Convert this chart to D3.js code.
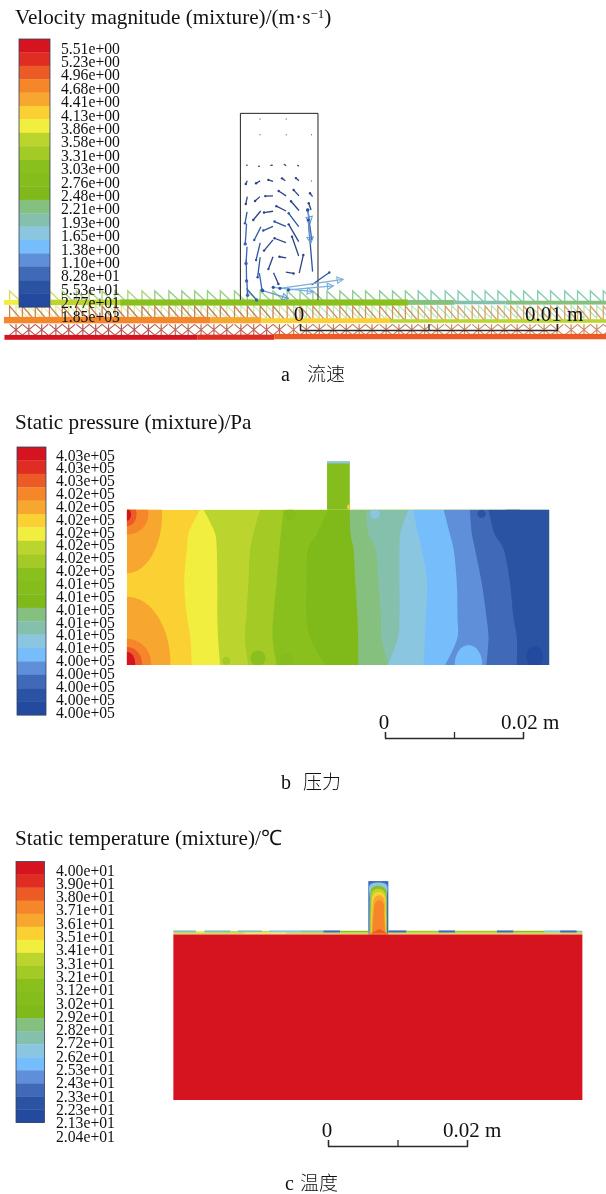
<!DOCTYPE html>
<html>
<head>
<meta charset="utf-8">
<title>Velocity, pressure and temperature fields</title>
<script src="https://cdnjs.cloudflare.com/ajax/libs/d3/7.8.5/d3.min.js"></script>
<style>
html, body { margin: 0; padding: 0; background: #fff; }
svg { display: block; filter: blur(0.35px); }
text { font-family: "Liberation Serif", serif; fill: #111; }
.cjk { font-family: "Noto Sans CJK SC", sans-serif; font-weight: 300; }
.legend text { font-size: 15.7px; }
.legend .domain, .legend .tick line { display: none; }
.bar text { display: none; }
.bar path, .bar line { stroke: #2a2a2a; stroke-width: 1.3; fill: none; }
.soft { filter: blur(0.5px); }
</style>
</head>
<body>
<div id="chart"></div>
<script>
// colour bands of the legends, top to bottom
var bandColors = ["#d6141f", "#df2d23", "#ec5a26", "#f5862a", "#f7a62f", "#fbd033", "#f1ee3f",
    "#bcd52e", "#a3ca25", "#8ac01d", "#84bd1c", "#80ba1a", "#85c07e", "#85c0ad", "#8ac6e0",
    "#76bdfb", "#5f8fd8", "#4069b8", "#2a54a3", "#234a9e"];

var velocityLabels = ["5.51e+00", "5.23e+00", "4.96e+00", "4.68e+00", "4.41e+00", "4.13e+00", "3.86e+00",
    "3.58e+00", "3.31e+00", "3.03e+00", "2.76e+00", "2.48e+00", "2.21e+00", "1.93e+00", "1.65e+00",
    "1.38e+00", "1.10e+00", "8.28e+01", "5.53e+01", "2.77e+01", "1.85e+03"];
var pressureLabels = ["4.03e+05", "4.03e+05", "4.03e+05", "4.02e+05", "4.02e+05", "4.02e+05", "4.02e+05",
    "4.02e+05", "4.02e+05", "4.02e+05", "4.01e+05", "4.01e+05", "4.01e+05", "4.01e+05", "4.01e+05",
    "4.01e+05", "4.00e+05", "4.00e+05", "4.00e+05", "4.00e+05", "4.00e+05"];
var temperatureLabels = ["4.00e+01", "3.90e+01", "3.80e+01", "3.71e+01", "3.61e+01", "3.51e+01", "3.41e+01",
    "3.31e+01", "3.21e+01", "3.12e+01", "3.02e+01", "2.92e+01", "2.82e+01", "2.72e+01", "2.62e+01",
    "2.53e+01", "2.43e+01", "2.33e+01", "2.23e+01", "2.13e+01", "2.04e+01"];

// panel a, velocity vectors in mm: x, y, dx, dy, speed in m/s
var vectors = [
    [-1.56, 8.21, 0.01, 0, 0.2], [-0.54, 8.21, 0.01, 0, 0.2],
    [-1.56, 7.60, 0.01, 0, 0.2], [-0.54, 7.60, 0.01, 0, 0.2], [0.45, 7.60, 0.01, 0, 0.2], [0.45, 5.80, 0.01, 0, 0.2],
    [-2.08, 6.41, 0.04, 0, 0.2], [-1.62, 6.37, 0.06, 0.01, 0.2], [-1.14, 6.41, 0.08, 0, 0.2], [-0.62, 6.45, 0.08, -0.06, 0.2], [-0.10, 6.41, 0.06, -0.04, 0.2],
    [-2.11, 5.68, 0.06, 0.13, 0.3], [-1.71, 5.71, 0.16, 0.09, 0.3], [-1.23, 5.84, 0.18, -0.06, 0.3], [-0.70, 5.90, 0.13, -0.09, 0.3], [-0.16, 5.91, 0.12, -0.10, 0.3],
    [-2.11, 4.90, 0.06, 0.29, 0.4], [-1.75, 5.02, 0.19, 0.17, 0.4], [-1.35, 5.21, 0.30, 0.01, 0.4], [-0.83, 5.41, 0.29, -0.19, 0.4], [-0.25, 5.45, 0.21, -0.23, 0.4], [0.39, 5.32, 0.10, -0.13, 0.4],
    [-2.14, 4.15, 0.08, 0.45, 0.5], [-1.82, 4.28, 0.29, 0.35, 0.4], [-1.40, 4.57, 0.35, 0.05, 0.4], [-0.92, 4.82, 0.38, -0.19, 0.4], [-0.35, 5.01, 0.31, -0.36, 0.4], [0.34, 4.93, 0.09, -0.26, 0.4],
    [-2.13, 3.35, 0.05, 0.78, 0.7], [-1.78, 3.50, 0.26, 0.52, 0.5], [-1.43, 3.87, 0.38, 0.16, 0.5], [-0.99, 4.22, 0.44, -0.19, 0.5], [-0.44, 4.54, 0.39, -0.52, 0.5], [0.30, 4.67, 0.16, -1.17, 0.7],
    [-2.10, 2.59, 0.04, 0.65, 0.8], [-1.71, 2.72, 0.16, 0.67, 0.5], [-1.40, 3.09, 0.35, 0.42, 0.4], [-0.99, 3.57, 0.44, -0.17, 0.4], [-0.44, 4.11, 0.39, -0.67, 0.4], [0.32, 4.28, 0.17, -2.01, 0.6],
    [-2.08, 1.91, -0.01, 0.82, 0.8], [-1.65, 2.05, 0.10, 0.78, 0.5], [-1.23, 2.37, 0.18, 0.48, 0.4], [-0.80, 2.85, 0.26, -0.04, 0.3], [-0.31, 3.63, 0.26, -0.75, 0.4], [0.13, 2.92, -0.16, -0.71, 0.4],
    [-2.04, 1.35, -0.03, 0.60, 0.8], [-1.48, 1.56, -0.10, 0.65, 0.7], [-0.84, 1.79, -0.19, 0.44, 0.4], [-0.25, 2.20, -0.30, 0.05, 0.3], [1.14, 2.24, -0.69, -0.49, 0.5],
    [-1.69, 1.17, -0.39, 0.45, 0.8]
];
// the long fast vectors near the cavity mouth and the wall jet, with open heads
var headVectors = [
    [-1.45, 1.53, 1.00, -0.30, 1.1], [-1.04, 1.66, 1.56, -0.17, 1.45], [-0.78, 1.62, 2.46, 0.35, 1.6], [-0.45, 1.56, 1.75, 0.16, 1.6],
    [0.30, 4.67, 0.10, -0.50, 1.2], [0.32, 4.28, 0.10, -0.90, 1.2]
];
var speedDomain = [0.3, 0.45, 0.65, 0.9, 1.3];
var speedColors = ["#3c4470", "#2c4486", "#2a54a3", "#3a62b5", "#6a9bd0", "#78aedd"];

// panel a, mesh stations along the channel in mm
var meshStations = [-11.3, -10.8, -10.3, -9.75, -9.25, -8.7, -8.2, -7.7, -7.2, -6.7, -6.15, -5.65, -5.1, -4.6, -4.1, -3.6,
    -3.1, -2.55, -2.05, -1.55, -1.05, -0.5, 0, 0.5, 1.05, 1.55, 2.05, 2.55, 3.1, 3.6, 4.1, 4.6, 5.1, 5.65, 6.15, 6.7,
    7.2, 7.7, 8.2, 8.7, 9.25, 9.75, 10.3, 10.8, 11.3, 11.8];
var meshColorBreaks = [-9.5, -6, -1, 4.5];
var meshRow1Colors = ["#dcd75f", "#a9d478", "#92cd84", "#8cca92", "#7fcbae"];
var meshRow1bColors = ["#e9e388", "#cfe48c", "#c8e39a", "#b6e0a8", "#a8dcb4"];
var meshRow2Colors = ["#c07a46", "#b8703e", "#bc7642", "#c68a4a", "#cf9a52"];
var meshRow3Colors = ["#a83a34", "#a83a34", "#b04a38", "#bc6240", "#c47444"];

// thick speed bands over the mesh: x0, x1, colour index, y bottom, y top (mm)
var meshBands = [
    [-11.55, -9.7, 6, 0.98, 1.17], [-9.7, -7, 7, 0.97, 1.18], [-7, 4.2, 9, 0.95, 1.19], [4.2, 6, 12, 0.98, 1.17],
    [6, 8, 13, 1.0, 1.14], [8, 12, 12, 0.99, 1.14],
    [-11.55, -3.5, 3, 0.26, 0.51], [-3.5, -1.5, 4, 0.26, 0.5], [-1.5, 3.5, 5, 0.27, 0.46], [3.5, 12, 7, 0.28, 0.42],
    [-11.5, -4, 0, -0.38, -0.19], [-4, -1, 1, -0.38, -0.18], [-1, 12, 2, -0.36, -0.15]
];

// panel b, pressure contour boundaries in mm, x read at each height of pressureLevels
var pressureLevels = [0, 4, 7, 12, 17, 19, 22.5];
var pressureBase = 5;
var pressureFronts = [
    { band: 6, x: [-28.0, -28.2, -28.7, -29.1, -28.7, -28.5, -26.8] },
    { band: 7, x: [-23.9, -24.2, -24.3, -24.3, -24.4, -24.6, -26.3] },
    { band: 8, x: [-19.8, -20.3, -20.1, -19.8, -19.5, -19.1, -18.1] },
    { band: 9, x: [-15.7, -16.3, -16.2, -15.7, -15.3, -15.1, -14.7] },
    { band: 11, x: [-8.7, -10.9, -11.4, -11.4, -11.1, -9.9, -8.2] },
    { band: 12, x: [-3.9, -3.9, -4.0, -4.3, -4.6, -5.0, -5.1] },
    { band: 13, x: [0.5, -0.5, -0.6, -1.0, -1.4, -2.4, -2.7] },
    { band: 14, x: [0.4, 1.9, 2.1, 2.1, 2.1, 2.2, 3.4] },
    { band: 15, x: [5.6, 5.8, 5.9, 6.1, 5.3, 4.8, 4.1] },
    { band: 16, x: [8.7, 10.5, 10.5, 10.4, 9.9, 9.4, 8.5] },
    { band: 17, x: [14.7, 15.0, 14.7, 14.0, 13.0, 12.6, 12.3] },
    { band: 18, x: [19.1, 19.1, 18.6, 18.1, 17.1, 15.9, 15.0] }
];
// pressure pockets: x, y, rx, ry, colour index (mm)
var pressureBlobs = [
    [-37.4, 21.8, 5.1, 8.5, 4], [-37.4, 21.8, 3.1, 2.9, 3], [-37.4, 21.8, 1.4, 1.7, 2], [-37.4, 21.8, 0.6, 0.9, 0],
    [-37.4, 0.2, 6.3, 9.7, 4], [-37.4, 0.2, 3.5, 3.6, 3], [-37.4, 0.2, 2.2, 2.4, 2], [-37.4, 0.2, 1.2, 1.7, 0],
    [-23.0, 0.6, 0.6, 0.6, 8], [-18.4, 1.0, 1.1, 1.1, 9], [-14.3, 0.7, 1.0, 1.0, 10],
    [12.1, 0, 2.0, 2.9, 15], [-1.45, 21.9, 0.7, 0.7, 14], [-13.7, 21.8, 0.8, 0.8, 10],
    [14, 21.9, 0.6, 0.6, 18], [18.6, 21.8, 1.2, 1.2, 18], [21.7, 1.2, 1.2, 1.6, 19]
];
var pressureBody = [-37.4, 23.8, 0, 22.5];
var pressureNozzle = [-8.4, -5.1, 22.5, 29.5];
var pressureNozzleCap = [-8.4, -5.1, 29.2, 29.5];
var pressureNozzleSpot = [-5.3, 22.9, 0.2, 0.35, 5];

// panel c, temperature field in mm
var temperatureBody = [-22.25, 36.6, 0, 23.8];
var temperatureNozzle = [5.8, 8.68, 23.8, 31.5];
var temperatureLayerBands = [14, 9, 7, 5, 4, 3, 3, 2];
var temperatureLayers = [
    [[5.98, 23.8], [6.0, 29], [6.08, 31.0], [8.4, 31.0], [8.46, 29], [8.5, 23.8]],
    [[6.02, 23.8], [6.1, 28.5], [6.35, 30.5], [7.4, 30.8], [8.28, 30.3], [8.42, 28], [8.46, 23.8]],
    [[6.1, 23.8], [6.18, 28], [6.45, 30.1], [7.4, 30.4], [8.18, 29.9], [8.36, 27], [8.42, 23.8]],
    [[6.2, 23.8], [6.28, 27.5], [6.55, 29.6], [7.4, 29.95], [8.1, 29.5], [8.28, 27], [8.36, 23.8]],
    [[6.28, 23.8], [6.4, 27], [6.7, 29.1], [7.4, 29.45], [8.02, 29.0], [8.18, 26.5], [8.3, 23.8]],
    [[6.35, 23.8], [6.55, 26.5], [6.85, 28.4], [7.4, 28.75], [7.96, 28.3], [8.08, 26], [8.25, 23.8]],
    [[6.45, 23.8], [6.75, 25.8], [7.1, 27.4], [7.6, 27.5], [7.95, 27], [8.0, 25.5], [8.18, 23.8]],
    [[6.0, 23.8], [6.6, 24.2], [7.3, 24.55], [8.1, 24.25], [8.6, 23.8]]
];
// thermal layer above the plate: x0, x1, colour index, y bottom, y top (mm)
var temperatureStrip = [
    [-22.25, 36.6, 4, 23.8, 23.95], [-22.25, -12, 7, 23.95, 24.12], [-12, -6, 6, 23.95, 24.12], [-6, 5.8, 7, 23.95, 24.12],
    [8.68, 36.6, 7, 23.95, 24.12],
    [-22.25, -19, 13, 24.12, 24.4], [-19, -17.8, 6, 24.12, 24.3], [-17.8, -14, 13, 24.12, 24.4], [-14, -13, 7, 24.12, 24.3],
    [-13, -9.5, 13, 24.12, 24.4], [-9.5, -8.5, 7, 24.12, 24.3], [-8.5, -4, 14, 24.12, 24.4], [-4, -0.67, 13, 24.12, 24.4],
    [-0.67, 1.73, 17, 24.1, 24.4], [1.73, 5.8, 9, 24.12, 24.35],
    [8.68, 11.3, 17, 24.1, 24.4], [11.3, 15.9, 8, 24.12, 24.35], [15.9, 18.3, 17, 24.1, 24.4], [18.3, 24.3, 8, 24.12, 24.35],
    [24.3, 26.7, 17, 24.1, 24.4], [26.7, 31.2, 9, 24.12, 24.35], [31.2, 33.4, 14, 24.12, 24.4], [33.4, 35.8, 17, 24.1, 24.4],
    [35.8, 36.6, 13, 24.12, 24.35]
];

var svg = d3.select("#chart").append("svg")
    .attr("width", 606)
    .attr("height", 1194);

var defs = svg.append("defs");

function drawTitle(x, y, txt) {
    return svg.append("text")
        .attr("x", x)
        .attr("y", y)
        .attr("font-size", 21.2)
        .text(txt);
}

function drawCaption(x, y, letter, han, gap) {
    svg.append("text").attr("x", x).attr("y", y).attr("font-size", 20).text(letter);
    svg.append("text").attr("class", "cjk").attr("x", x + gap).attr("y", y).attr("font-size", 19).text(han);
}

function drawLegend(labels, barX, barW, barTop, barBottom, labelX, labelTop, labelBottom) {
    var g = svg.append("g").attr("class", "legend");

    var bandY = d3.scaleBand()
        .domain(d3.range(bandColors.length))
        .range([barTop, barBottom]);

    g.selectAll("rect.band")
        .data(bandColors)
        .enter().append("rect")
        .attr("class", "band")
        .attr("x", barX)
        .attr("y", function (d, i) { return bandY(i); })
        .attr("width", barW)
        .attr("height", bandY.bandwidth() + 0.3)
        .attr("fill", function (d) { return d; });

    g.append("rect")
        .attr("x", barX)
        .attr("y", barTop)
        .attr("width", barW)
        .attr("height", barBottom - barTop)
        .attr("fill", "none")
        .attr("stroke", "#33435f")
        .attr("stroke-width", 0.8);

    var labelY = d3.scalePoint()
        .domain(d3.range(labels.length))
        .range([labelTop, labelBottom]);

    g.append("g")
        .attr("transform", "translate(" + labelX + ",0)")
        .call(d3.axisRight(labelY).tickSize(0).tickPadding(0).tickFormat(function (i) { return labels[i]; }));
}

function drawScaleBar(x, y, yBar, labelY, endLabel, labelX) {
    svg.append("g")
        .attr("class", "bar")
        .attr("transform", "translate(0," + yBar + ")")
        .call(d3.axisTop(x).tickValues([0, 10, 20]).tickSize(6).tickFormat(""));

    svg.append("text")
        .attr("x", x(0) - 1)
        .attr("y", labelY)
        .attr("text-anchor", "middle")
        .attr("font-size", 21)
        .text("0");
    svg.append("text")
        .attr("x", labelX)
        .attr("y", labelY)
        .attr("font-size", 21)
        .text(endLabel);
}

// panel a ----------------------------------------------------------------
function drawVelocity() {
    var x = d3.scaleLinear().domain([0, 10]).range([300, 557]);
    var y = d3.scaleLinear().domain([0, 10]).range([330, 73]);

    var g = svg.append("g");
    var clipId = "meshClip";
    defs.append("clipPath").attr("id", clipId).append("rect")
        .attr("x", x(-11.52))
        .attr("y", y(1.6))
        .attr("width", x(12) - x(-11.52))
        .attr("height", y(-0.4) - y(1.6));

    var mesh = g.append("g").attr("clip-path", "url(#" + clipId + ")").attr("class", "soft");

    function meshColor(colors) {
        return d3.scaleThreshold().domain(meshColorBreaks).range(colors);
    }

    function row(colors, className, build, width, alpha) {
        var c = meshColor(colors);
        mesh.selectAll("path." + className)
            .data(meshStations)
            .enter().append("path")
            .attr("class", className)
            .attr("d", build)
            .attr("fill", "none")
            .attr("stroke", function (d) { return c(d); })
            .attr("stroke-width", width)
            .attr("stroke-opacity", alpha);
    }

    // pale second layer first, then the three mesh rows
    row(meshRow1bColors, "row1b", function (s) {
        return "M" + x(s + 0.25) + "," + y(0.45) + "L" + x(s + 0.25) + "," + y(0.95) + "L" + x(s + 0.75) + "," + y(0.45);
    }, 1.2, 0.9);
    row(meshRow1Colors, "row1", function (s) {
        return "M" + x(s) + "," + y(1.05) + "L" + x(s) + "," + y(1.52) + "L" + x(s + 0.5) + "," + y(1.05);
    }, 1.4, 0.95);
    row(meshRow2Colors, "row2", function (s) {
        return "M" + x(s) + "," + y(0.35) + "L" + x(s) + "," + y(0.93) + "L" + x(s + 0.5) + "," + y(0.35);
    }, 1.3, 0.9);
    row(meshRow3Colors, "row3", function (s) {
        return "M" + x(s) + "," + y(0.22) + "L" + x(s + 0.5) + "," + y(-0.2) +
            "M" + x(s + 0.5) + "," + y(0.22) + "L" + x(s) + "," + y(-0.2) +
            "M" + x(s + 0.25) + "," + y(0.22) + "L" + x(s + 0.25) + "," + y(-0.2);
    }, 1.2, 0.85);

    mesh.selectAll("rect.meshband")
        .data(meshBands)
        .enter().append("rect")
        .attr("class", "meshband")
        .attr("x", function (d) { return x(d[0]); })
        .attr("y", function (d) { return y(d[4]); })
        .attr("width", function (d) { return x(d[1]) - x(d[0]); })
        .attr("height", function (d) { return y(d[3]) - y(d[4]); })
        .attr("fill", function (d) { return bandColors[d[2]]; });

    // cavity walls
    var wall = d3.line().x(function (d) { return x(d[0]); }).y(function (d) { return y(d[1]); });
    g.append("path")
        .attr("d", wall([[-2.32, 1.17], [-2.32, 8.43], [0.7, 8.43], [0.7, 1.17]]))
        .attr("fill", "none")
        .attr("stroke", "#222")
        .attr("stroke-width", 1);

    var speed = d3.scaleThreshold().domain(speedDomain).range(speedColors);

    g.selectAll("line.vec")
        .data(vectors)
        .enter().append("line")
        .attr("class", "vec")
        .attr("x1", function (d) { return x(d[0]); })
        .attr("y1", function (d) { return y(d[1]); })
        .attr("x2", function (d) { return x(d[0] + d[2]); })
        .attr("y2", function (d) { return y(d[1] + d[3]); })
        .attr("stroke", function (d) { return speed(d[4]); })
        .attr("stroke-width", 1.3);

    g.selectAll("circle.vec")
        .data(vectors)
        .enter().append("circle")
        .attr("class", "vec")
        .attr("cx", function (d) { return x(d[0]); })
        .attr("cy", function (d) { return y(d[1]); })
        .attr("r", function (d) { return d[4] < 0.25 ? 0.5 : (d[4] > 0.6 ? 1.7 : 1.2); })
        .attr("fill", function (d) { return speed(d[4]); });

    var heads = g.selectAll("g.head")
        .data(headVectors)
        .enter().append("g")
        .attr("class", "head");

    heads.append("line")
        .attr("x1", function (d) { return x(d[0]); })
        .attr("y1", function (d) { return y(d[1]); })
        .attr("x2", function (d) { return x(d[0] + d[2]); })
        .attr("y2", function (d) { return y(d[1] + d[3]); })
        .attr("stroke", function (d) { return speed(d[4]); })
        .attr("stroke-width", 1.3);

    heads.append("path")
        .attr("d", function (d) {
            var tx = x(d[0] + d[2]), ty = y(d[1] + d[3]);
            var a = Math.atan2(ty - y(d[1]), tx - x(d[0]));
            var s = 6, w = 3.2;
            var bx = tx - s * Math.cos(a), by = ty - s * Math.sin(a);
            return "M" + tx + "," + ty +
                "L" + (bx - w * Math.sin(a)) + "," + (by + w * Math.cos(a)) +
                "L" + (bx + w * Math.sin(a)) + "," + (by - w * Math.cos(a)) + "Z";
        })
        .attr("fill", "none")
        .attr("stroke", function (d) { return speed(d[4]); })
        .attr("stroke-width", 1.1);

    g.selectAll("circle.hd")
        .data(headVectors)
        .enter().append("circle")
        .attr("class", "hd")
        .attr("cx", function (d) { return x(d[0]); })
        .attr("cy", function (d) { return y(d[1]); })
        .attr("r", 1.6)
        .attr("fill", "#2a54a3");

    drawScaleBar(d3.scaleLinear().domain([0, 20]).range([x(0), x(10)]), y, y(0), 321, "0.01 m", 525);
}

// panel b ----------------------------------------------------------------
function drawPressure() {
    var x = d3.scaleLinear().domain([0, 20]).range([385, 523]);
    var y = d3.scaleLinear().domain([0, 22.5]).range([665, 509.75]);

    var g = svg.append("g");

    defs.append("clipPath").attr("id", "pressureClip").append("rect")
        .attr("x", x(pressureBody[0]))
        .attr("y", y(pressureBody[3]))
        .attr("width", x(pressureBody[1]) - x(pressureBody[0]))
        .attr("height", y(pressureBody[2]) - y(pressureBody[3]));

    var body = g.append("g").attr("clip-path", "url(#pressureClip)");

    body.append("rect")
        .attr("x", x(pressureBody[0]))
        .attr("y", y(pressureBody[3]))
        .attr("width", x(pressureBody[1]) - x(pressureBody[0]))
        .attr("height", y(pressureBody[2]) - y(pressureBody[3]))
        .attr("fill", bandColors[pressureBase]);

    // each front paints everything to its right
    var front = d3.area()
        .y(function (d) { return y(d.level); })
        .x0(function (d) { return x(d.x); })
        .x1(x(pressureBody[1]))
        .curve(d3.curveCatmullRom);

    body.selectAll("path.front")
        .data(pressureFronts)
        .enter().append("path")
        .attr("class", "front")
        .attr("d", function (f) {
            return front(pressureLevels.map(function (l, i) { return { level: l, x: f.x[i] }; }));
        })
        .attr("fill", function (f) { return bandColors[f.band]; });

    body.selectAll("ellipse.blob")
        .data(pressureBlobs)
        .enter().append("ellipse")
        .attr("class", "blob")
        .attr("cx", function (d) { return x(d[0]); })
        .attr("cy", function (d) { return y(d[1]); })
        .attr("rx", function (d) { return x(d[2]) - x(0); })
        .attr("ry", function (d) { return y(0) - y(d[3]); })
        .attr("fill", function (d) { return bandColors[d[4]]; });

    g.append("rect")
        .attr("x", x(pressureNozzle[0]))
        .attr("y", y(pressureNozzle[3]))
        .attr("width", x(pressureNozzle[1]) - x(pressureNozzle[0]))
        .attr("height", y(pressureNozzle[2]) - y(pressureNozzle[3]))
        .attr("fill", bandColors[10]);

    g.append("rect")
        .attr("x", x(pressureNozzleCap[0]))
        .attr("y", y(pressureNozzleCap[3]))
        .attr("width", x(pressureNozzleCap[1]) - x(pressureNozzleCap[0]))
        .attr("height", y(pressureNozzleCap[2]) - y(pressureNozzleCap[3]))
        .attr("fill", bandColors[14]);

    g.append("ellipse")
        .attr("cx", x(pressureNozzleSpot[0]))
        .attr("cy", y(pressureNozzleSpot[1]))
        .attr("rx", x(pressureNozzleSpot[2]) - x(0))
        .attr("ry", y(0) - y(pressureNozzleSpot[3]))
        .attr("fill", bandColors[pressureNozzleSpot[4]]);

    drawScaleBar(x, y, 738, 729, "0.02 m", 501);
}

// panel c ----------------------------------------------------------------
function drawTemperature() {
    var x = d3.scaleLinear().domain([0, 20]).range([328, 467]);
    var y = d3.scaleLinear().domain([0, 24]).range([1100, 933.2]);

    var g = svg.append("g");

    g.append("rect")
        .attr("x", x(temperatureNozzle[0]))
        .attr("y", y(temperatureNozzle[3]))
        .attr("width", x(temperatureNozzle[1]) - x(temperatureNozzle[0]))
        .attr("height", y(temperatureNozzle[2]) - y(temperatureNozzle[3]))
        .attr("fill", bandColors[17]);

    var layer = d3.line()
        .x(function (d) { return x(d[0]); })
        .y(function (d) { return y(d[1]); })
        .curve(d3.curveCatmullRom);

    g.selectAll("path.layer")
        .data(temperatureLayers)
        .enter().append("path")
        .attr("class", "layer")
        .attr("d", function (d) { return layer(d); })
        .attr("fill", function (d, i) { return bandColors[temperatureLayerBands[i]]; });

    g.selectAll("rect.strip")
        .data(temperatureStrip)
        .enter().append("rect")
        .attr("class", "strip")
        .attr("x", function (d) { return x(d[0]); })
        .attr("y", function (d) { return y(d[4]); })
        .attr("width", function (d) { return x(d[1]) - x(d[0]); })
        .attr("height", function (d) { return y(d[3]) - y(d[4]); })
        .attr("fill", function (d) { return bandColors[d[2]]; });

    g.append("rect")
        .attr("x", x(temperatureBody[0]))
        .attr("y", y(temperatureBody[3]))
        .attr("width", x(temperatureBody[1]) - x(temperatureBody[0]))
        .attr("height", y(temperatureBody[2]) - y(temperatureBody[3]))
        .attr("fill", bandColors[0]);

    drawScaleBar(x, y, 1146, 1137, "0.02 m", 443);
}

drawVelocity();
drawPressure();
drawTemperature();

var t1 = drawTitle(15, 24, "Velocity magnitude (mixture)/(m·s");
t1.append("tspan").attr("dy", -6).attr("font-size", 13).text("−1");
t1.append("tspan").attr("dy", 6).text(")");
drawTitle(15, 429, "Static pressure (mixture)/Pa");
drawTitle(15, 845, "Static temperature (mixture)/℃");

drawLegend(velocityLabels, 19, 31, 39, 307, 61, 48, 316);
drawLegend(pressureLabels, 17, 29, 447, 715, 56, 455, 712);
drawLegend(temperatureLabels, 16, 28.5, 861.5, 1122.5, 56, 870, 1136);

drawCaption(281, 381, "a", "流速", 26);
drawCaption(281, 789, "b", "压力", 22);
drawCaption(285, 1190, "c", "温度", 15);
</script>
</body>
</html>
